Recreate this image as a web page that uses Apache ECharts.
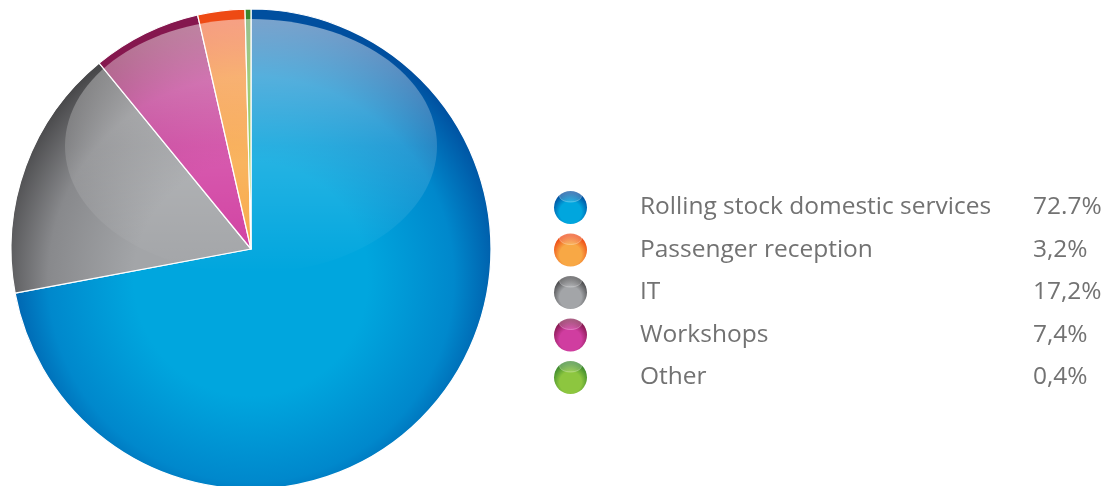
<!DOCTYPE html>
<html>
<head>
<meta charset="utf-8">
<script src="https://cdn.jsdelivr.net/npm/echarts@6/dist/echarts.min.js"></script>
<style>
  html, body { margin: 0; padding: 0; background: #ffffff; }
  #chart { width: 1112px; height: 486px; }
</style>
</head>
<body>
<div id="chart"></div>
<script>
// Share of spend by category (pie order, clockwise from 12 o'clock)
const categories = ['Rolling stock domestic services', 'IT', 'Workshops', 'Passenger reception', 'Other'];
const shares = [72.7, 17.2, 7.4, 3.2, 0.4];
const shareLabels = ['72.7%', '17,2%', '7,4%', '3,2%', '0,4%'];
// Legend order
const legendOrder = ['Rolling stock domestic services', 'Passenger reception', 'IT', 'Workshops', 'Other'];

// [light centre, mid, dark rim]
const palette = {
  'Rolling stock domestic services': ['#00a6de', '#0088cc', '#004f9f'],
  'IT': ['#a3a5a8', '#88898c', '#48484a'],
  'Workshops': ['#d03da0', '#bb308c', '#85174e'],
  'Passenger reception': ['#f8a845', '#f48a2c', '#ee4a14'],
  'Other': ['#8dc63f', '#70b23a', '#3a882c']
};

const CX = 251, CY = 249, R = 240;

function sliceFill(name) {
  const c = palette[name];
  return {
    type: 'radial', x: CX, y: CY + 30, r: R + 20, global: true,
    colorStops: [
      { offset: 0, color: c[0] },
      { offset: 0.45, color: c[0] },
      { offset: 0.78, color: c[1] },
      { offset: 1, color: c[2] }
    ]
  };
}

function iconFill(name) {
  const c = palette[name];
  return {
    type: 'radial', x: 0.5, y: 0.65, r: 0.6,
    colorStops: [
      { offset: 0, color: c[0] },
      { offset: 0.55, color: c[0] },
      { offset: 1, color: c[2] }
    ]
  };
}

const chart = echarts.init(document.getElementById('chart'), null, { renderer: 'canvas' });

const labelOf = {};
categories.forEach((n, i) => { labelOf[n] = shareLabels[i]; });

const FONT = '"Open Sans", "Noto Sans", sans-serif';
const TEXT_COLOR = '#727272';
const LEGEND_TOP = 186;
const ROW = 42.5;

chart.setOption({
  backgroundColor: '#ffffff',
  animation: false,
  legend: {
    orient: 'vertical',
    left: 549,
    top: LEGEND_TOP,
    padding: 5,
    itemWidth: 33,
    itemHeight: 33,
    itemGap: ROW - 33,
    icon: 'circle',
    selectedMode: false,
    data: legendOrder.map(n => ({ name: n, itemStyle: { color: iconFill(n), borderWidth: 0 } })),
    formatter: name => '{n|' + name + '}{v|' + labelOf[name] + '}',
    textStyle: {
      rich: {
        n: { fontFamily: FONT, fontSize: 24.5, color: TEXT_COLOR, width: 393, padding: [0, 0, 0, 48] },
        v: { fontFamily: FONT, fontSize: 24.5, color: TEXT_COLOR }
      }
    }
  },
  graphic: [
    // glossy highlight across the upper part of the pie
    {
      type: 'ellipse',
      z: 100,
      silent: true,
      shape: { cx: CX, cy: 146, rx: 186, ry: 127 },
      style: {
        fill: {
          type: 'linear', x: 0, y: 0, x2: 0, y2: 1,
          colorStops: [
            { offset: 0, color: 'rgba(255,255,255,0.48)' },
            { offset: 0.5, color: 'rgba(255,255,255,0.16)' },
            { offset: 1, color: 'rgba(255,255,255,0.0)' }
          ]
        }
      }
    }
  ].concat(legendOrder.map((n, i) => ({
    // glossy cap on each legend bullet
    type: 'ellipse',
    z: 100,
    silent: true,
    shape: { cx: 570.5, cy: LEGEND_TOP + 10 + i * ROW, rx: 11, ry: 6 },
    style: {
      stroke: 'rgba(255,255,255,0.35)',
      lineWidth: 0.8,
      fill: {
        type: 'linear', x: 0, y: 0, x2: 0, y2: 1,
        colorStops: [
          { offset: 0, color: 'rgba(255,255,255,0.35)' },
          { offset: 1, color: 'rgba(255,255,255,0.12)' }
        ]
      }
    }
  }))),
  series: [{
    type: 'pie',
    center: [CX, CY],
    radius: [0, R],
    startAngle: 90,
    clockwise: true,
    label: { show: false },
    labelLine: { show: false },
    emphasis: { disabled: true },
    itemStyle: { borderColor: '#ffffff', borderWidth: 1.2 },
    data: categories.map((n, i) => ({
      name: n,
      value: shares[i],
      itemStyle: { color: sliceFill(n) }
    }))
  }]
});
</script>
</body>
</html>
